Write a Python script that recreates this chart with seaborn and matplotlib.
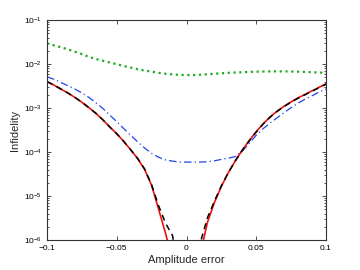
import numpy as np
import pandas as pd
import matplotlib
matplotlib.use("Agg")
import matplotlib.pyplot as plt
import matplotlib.ticker as mticker
import seaborn as sns

amp_err = [-0.100, -0.095, -0.090, -0.085, -0.080, -0.075, -0.070, -0.065, -0.060, -0.055,
           -0.050, -0.045, -0.040, -0.035, -0.030, -0.025, -0.020, -0.015, -0.010, -0.005,
           0.000, 0.005, 0.010, 0.015, 0.020, 0.025, 0.030, 0.035, 0.040, 0.045,
           0.050, 0.055, 0.060, 0.065, 0.070, 0.075, 0.080, 0.085, 0.090, 0.095, 0.100]

red_solid = [3.98e-3, 3.31e-3, 2.69e-3, 2.19e-3, 1.74e-3, 1.35e-3, 1.02e-3, 7.6e-4, 5.4e-4, 3.7e-4,
             2.6e-4, 1.74e-4, 1.12e-4, 7.1e-5, 4.0e-5, 1.74e-5, 5.0e-6, 1.41e-6, 3.5e-7, 3.2e-8,
             2e-9, 4e-8, 5e-7, 2.5e-6, 7.1e-6, 1.66e-5, 3.4e-5, 6.3e-5, 1.10e-4, 1.82e-4,
             2.9e-4, 4.4e-4, 6.3e-4, 8.5e-4, 1.10e-3, 1.38e-3, 1.70e-3, 2.04e-3, 2.45e-3, 2.95e-3, 3.55e-3]

black_dashed = [3.98e-3, 3.31e-3, 2.69e-3, 2.19e-3, 1.74e-3, 1.35e-3, 1.02e-3, 7.6e-4, 5.4e-4, 3.7e-4,
                2.6e-4, 1.74e-4, 1.12e-4, 7.1e-5, 4.1e-5, 1.8e-5, 6.0e-6, 2.4e-6, 1.26e-6, 1e-7,
                1e-9, 1e-7, 8.9e-7, 3.2e-6, 7.6e-6, 1.7e-5, 3.4e-5, 6.3e-5, 1.10e-4, 1.8e-4,
                2.85e-4, 4.35e-4, 6.2e-4, 8.4e-4, 1.08e-3, 1.36e-3, 1.67e-3, 2.0e-3, 2.4e-3, 2.9e-3, 3.45e-3]

blue_dashdot = [5.1e-3, 4.5e-3, 3.8e-3, 3.2e-3, 2.7e-3, 2.2e-3, 1.74e-3, 1.32e-3, 9.8e-4, 6.9e-4,
                4.9e-4, 3.4e-4, 2.4e-4, 1.7e-4, 1.23e-4, 9.3e-5, 7.6e-5, 6.6e-5, 6.2e-5, 5.9e-5,
                5.9e-5, 5.9e-5, 5.9e-5, 6.0e-5, 6.3e-5, 6.8e-5, 7.2e-5, 7.9e-5, 1.05e-4, 1.58e-4,
                2.4e-4, 3.4e-4, 4.6e-4, 6.0e-4, 7.9e-4, 1.02e-3, 1.29e-3, 1.58e-3, 1.9e-3, 2.3e-3, 2.7e-3]

green_dotted = [2.95e-2, 2.65e-2, 2.4e-2, 2.15e-2, 1.9e-2, 1.68e-2, 1.45e-2, 1.3e-2, 1.18e-2, 1.08e-2,
                9.9e-3, 9.0e-3, 8.3e-3, 7.6e-3, 7.1e-3, 6.7e-3, 6.3e-3, 6.0e-3, 5.8e-3, 5.65e-3,
                5.6e-3, 5.6e-3, 5.7e-3, 5.85e-3, 6.0e-3, 6.15e-3, 6.3e-3, 6.4e-3, 6.5e-3, 6.6e-3,
                6.7e-3, 6.75e-3, 6.8e-3, 6.8e-3, 6.8e-3, 6.75e-3, 6.7e-3, 6.6e-3, 6.5e-3, 6.4e-3, 6.3e-3]

x_ticks = [-0.1, -0.05, 0, 0.05, 0.1]
x_tick_labels = ["\u22120.1", "\u22120.05", "0", "0.05", "0.1"]
y_ticks = [1e-6, 1e-5, 1e-4, 1e-3, 1e-2, 1e-1]
y_tick_labels = [r"$10^{-6}$", r"$10^{-5}$", r"$10^{-4}$", r"$10^{-3}$", r"$10^{-2}$", r"$10^{-1}$"]

sns.set_style("ticks")
plt.rcParams['font.family'] = ['Liberation Sans', 'DejaVu Sans']
plt.rcParams['mathtext.fontset'] = 'custom'
plt.rcParams['mathtext.rm'] = 'Liberation Sans'
plt.rcParams['mathtext.it'] = 'Liberation Sans'

fig = plt.figure(figsize=(3.6, 2.7), dpi=100)
ax = fig.add_axes([47/360, 30/270, 279/360, 220/270])

df = pd.DataFrame({"x": amp_err, "red": red_solid, "black": black_dashed,
                   "blue": blue_dashdot, "green": green_dotted})

sns.lineplot(data=df, x="x", y="green", ax=ax, color="#22aa22", lw=1.6,
             linestyle=(0, (1, 1.6)))
sns.lineplot(data=df, x="x", y="blue", ax=ax, color="#2244ee", lw=0.9,
             linestyle=(0, (6, 2.5, 1, 2.5)))
sns.lineplot(data=df, x="x", y="red", ax=ax, color="#ee1111", lw=1.2, linestyle="-")
sns.lineplot(data=df, x="x", y="black", ax=ax, color="black", lw=1.1,
             linestyle=(0, (4, 3)))

ax.set_yscale("log")
ax.set_xlim(-0.1, 0.1)
ax.set_ylim(1e-6, 1e-1)
ax.set_xticks(x_ticks)
ax.set_xticklabels(x_tick_labels)
ax.set_yticks(y_ticks)
ax.set_yticklabels(y_tick_labels)
ax.yaxis.set_minor_locator(mticker.LogLocator(base=10, subs=np.arange(2, 10)))
ax.yaxis.set_minor_formatter(mticker.NullFormatter())

axcol = "#333333"
for s in ax.spines.values():
    s.set_visible(True)
    s.set_color(axcol)
    s.set_linewidth(0.8)
ax.tick_params(which="both", direction="in", top=True, right=True, colors=axcol,
               labelcolor="black", labelsize=6, width=0.6)
ax.tick_params(which="major", length=3)
ax.tick_params(which="minor", length=1.6)

ax.set_xlabel("Amplitude error", fontsize=8, labelpad=2)
ax.set_ylabel("Infidelity", fontsize=8, labelpad=3)

fig.savefig("out.png", dpi=100)
